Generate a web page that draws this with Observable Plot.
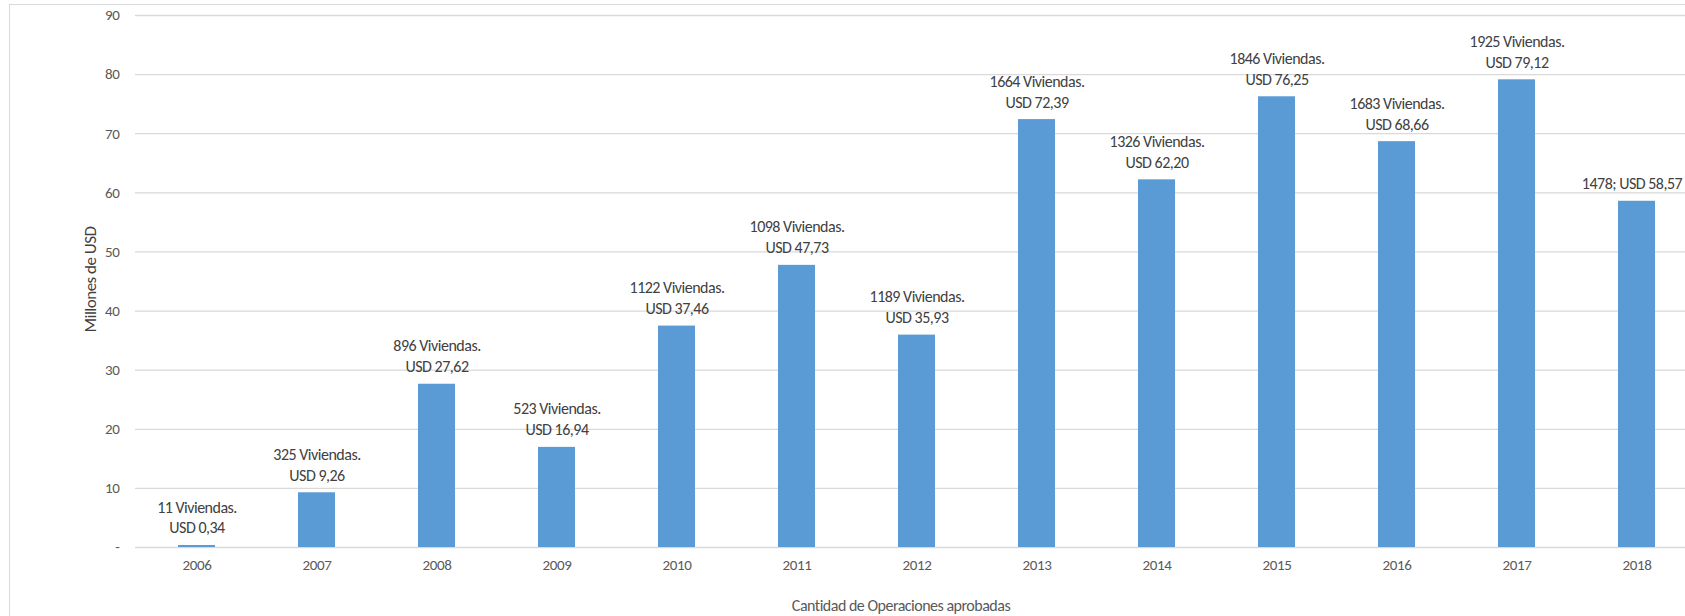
<!DOCTYPE html>
<html><head><meta charset="utf-8">
<script src="https://cdn.jsdelivr.net/npm/d3@7"></script>
<script src="https://cdn.jsdelivr.net/npm/@observablehq/plot@0.6"></script>
<style>
html,body{margin:0;padding:0;background:#fff;overflow:hidden;width:1685px;height:616px;}
#wrap{position:relative;width:1685px;height:616px;overflow:hidden;}
#frame{position:absolute;left:9px;top:4px;width:2000px;height:1000px;border:1.5px solid #d9d9d9;box-sizing:border-box;}
#chart{position:absolute;left:0;top:0;}
#chart g[aria-label="text"] text{letter-spacing:-0.5px;}
#chart g[aria-label="x-axis tick label"] text{letter-spacing:-0.3px;}
#chart g[aria-label="y-axis tick label"] text{letter-spacing:-0.4px;}
</style></head><body>
<div id="wrap"><div id="frame"></div><div id="chart"></div></div>
<script>
const years = ["2006","2007","2008","2009","2010","2011","2012","2013","2014","2015","2016","2017","2018"];
const viviendas = [11, 325, 896, 523, 1122, 1098, 1189, 1664, 1326, 1846, 1683, 1925, 1478];
const montos = [0.34, 9.26, 27.62, 16.94, 37.46, 47.73, 35.93, 72.39, 62.20, 76.25, 68.66, 79.12, 58.57];
const yTicks = [0, 10, 20, 30, 40, 50, 60, 70, 80, 90];
const yTitle = "Millones de USD";
const xTitle = "Cantidad de Operaciones aprobadas";

const fmt = v => v.toFixed(2).replace(".", ",");
const data = years.map((y, i) => ({
  year: y,
  value: montos[i],
  label: i === years.length - 1
    ? `${viviendas[i]}; USD ${fmt(montos[i])}`
    : `${viviendas[i]} Viviendas.\nUSD ${fmt(montos[i])}`
}));
const lastLabel = data.slice(-1);
const otherLabels = data.slice(0, -1);

const FONT = "Carlito, 'Liberation Sans', sans-serif";
const labelStyle = {x: "year", y: "value", text: "label", lineAnchor: "bottom", dy: -12,
  lineHeight: 1.31, fontSize: 16, fill: "#404040"};

const chart = Plot.plot({
  width: 1698,
  height: 616,
  marginLeft: 135,
  marginRight: 0,
  marginTop: 15,
  marginBottom: 69,
  style: {fontFamily: FONT, background: "transparent", overflow: "visible", maxWidth: "none"},
  x: {domain: years, paddingInner: 0.69, paddingOuter: 0.345, label: null},
  y: {domain: [0, 90], label: null},
  marks: [
    Plot.gridY(yTicks, {stroke: "#d9d9d9", strokeOpacity: 1, strokeWidth: 1.3}),
    Plot.barY(data, {x: "year", y: "value", fill: "#5b9bd5"}),
    Plot.text(otherLabels, labelStyle),
    Plot.text(lastLabel, {...labelStyle, dx: -5}),
    Plot.axisX({tickSize: 0, tickPadding: 12, fontSize: 15, color: "#595959", label: null}),
    Plot.axisY(yTicks, {tickSize: 0, tickPadding: 16, fontSize: 15, color: "#595959", label: null,
      tickFormat: d => d === 0 ? "-" : String(d)}),
    Plot.text([yTitle], {frameAnchor: "left", textAnchor: "middle", lineAnchor: "middle",
      dx: -45, dy: -2, rotate: -90, fontSize: 17, fill: "#404040"}),
    Plot.text([xTitle], {frameAnchor: "bottom", textAnchor: "middle", lineAnchor: "middle",
      dx: -16, dy: 58, fontSize: 16, fill: "#595959"})
  ]
});
document.getElementById("chart").appendChild(chart);
</script>
</body></html>
